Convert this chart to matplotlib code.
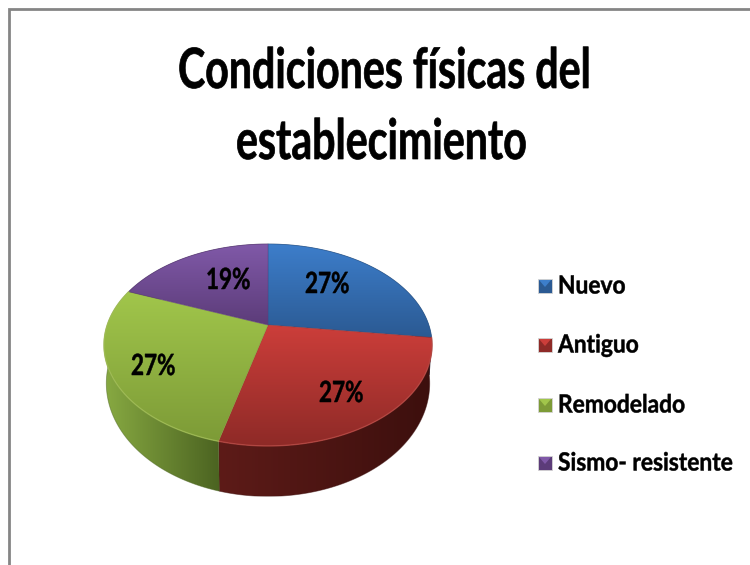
import numpy as np
import matplotlib
matplotlib.use("Agg")
import matplotlib.pyplot as plt
from matplotlib.colors import LinearSegmentedColormap
from matplotlib.patches import PathPatch, Polygon, Rectangle
from matplotlib.path import Path
from matplotlib.patheffects import AbstractPathEffect
from matplotlib.transforms import Affine2D

plt.rcParams['font.family'] = ['Lato', 'DejaVu Sans']

# datos del grafico
categorias = ["Nuevo", "Antiguo", "Remodelado", "Sismo- resistente"]
valores = [27, 27, 27, 19]
titulo = ["Condiciones físicas del", "establecimiento"]

# colores: cara superior (arriba, abajo), lateral (izq, der), leyenda
top_cols = [("#3d7ecb", "#2b5a93"), ("#cc3e3a", "#8e2a27"),
            ("#a1c64b", "#7d9b37"), ("#8059a8", "#5c3c79")]
side_cols = [("#1d3b60", "#1d3b60"), ("#5d1b18", "#3c0f0d"),
             ("#88aa42", "#4b6321"), ("#3c2650", "#3c2650")]
rim_cols = [None, "#c9524c", "#adc95e", None]
# borde izquierdo de cada texto
label_xy = [(305, 285), (319, 394), (131, 367), (206, 281)]
legend_y = [286, 345, 405, 463]
title_xy = [(178, 72), (236, 143)]


class Condensar(AbstractPathEffect):
    # estrecha el texto en x y le da algo mas de grosor, como la fuente original
    def __init__(self, sx, grosor=0.35):
        super().__init__()
        self.sx = sx
        self.grosor = grosor

    def draw_path(self, renderer, gc, tpath, affine, rgbFace=None):
        gc0 = renderer.new_gc()
        gc0.copy_properties(gc)
        gc0.set_foreground("black")
        gc0.set_linewidth(self.grosor)
        renderer.draw_path(gc0, tpath, Affine2D().scale(self.sx, 1) + affine, rgbFace)
        gc0.restore()


fig = plt.figure(figsize=(7.5, 5.65), dpi=100)

# la tarta normal solo para sacar los angulos de cada porcion
tmp = fig.add_axes([0, 0, 0.1, 0.1])
wedges, _ = tmp.pie(valores, startangle=90, counterclock=False)
angulos = [(w.theta1, w.theta2) for w in wedges]
tmp.remove()

ax = fig.add_axes([0, 0, 1, 1])


def persp(theta, cy, a, b, k=0.198, cx=268):
    # circulo unidad visto en perspectiva, y hacia abajo en pixeles
    u, v = np.cos(np.radians(theta)), np.sin(np.radians(theta))
    w = 1 + k * v
    return cx + a * u / w, cy - b * v / w


def top_xy(theta):
    return persp(theta, 325, 160.8, 97)


def bottom_xy(theta):
    return persp(theta, 361, 158.5, 108.6)


def fill_grad(path, cols, vertical, z):
    patch = PathPatch(path, fc="none", ec="none", zorder=z)
    ax.add_patch(patch)
    x0, y0 = path.vertices.min(axis=0)
    x1, y1 = path.vertices.max(axis=0)
    grad = np.linspace(0, 1, 256)
    grad = grad[:, None] if vertical else grad[None, :]
    cmap = LinearSegmentedColormap.from_list("g", cols)
    im = ax.imshow(grad, cmap=cmap, extent=(x0, x1, y1, y0), aspect="auto",
                   vmin=0, vmax=1, zorder=z, interpolation="bilinear")
    im.set_clip_path(patch)
    # borde fino del mismo tono para suavizar el recorte
    ax.add_patch(PathPatch(path, fc="none", ec=cols[-1], lw=0.6, alpha=0.5, zorder=z))


# laterales primero
for i, (t1, t2) in enumerate(angulos):
    th = np.linspace(t1, t2, 120)
    xt, yt = top_xy(th)
    xb, yb = bottom_xy(th)
    pts = np.vstack([np.c_[xt, yt], np.c_[xb, yb][::-1], [[xt[0], yt[0]]]])
    fill_grad(Path(pts, closed=True), side_cols[i], False, 2)

# caras superiores
for i, (t1, t2) in enumerate(angulos):
    th = np.linspace(t1, t2, 120)
    xt, yt = top_xy(th)
    pts = np.vstack([[[268, 325]], np.c_[xt, yt], [[268, 325]]])
    fill_grad(Path(pts, closed=True), top_cols[i], True, 3)
    if rim_cols[i]:
        ax.plot(xt, yt, color=rim_cols[i], lw=1.0, alpha=0.6, zorder=4)

# etiquetas de porcentaje
for (x, y), val in zip(label_xy, valores):
    ax.text(x, y, f"{val}%", ha="left", va="center", fontsize=21, fontweight="bold",
            color="black", zorder=5, path_effects=[Condensar(0.77)])

# titulo
for linea, (x, y) in zip(titulo, title_xy):
    ax.text(x, y, linea, ha="left", va="center", fontsize=40, fontweight="bold",
            color="black", path_effects=[Condensar(0.74, 0.5)])

# leyenda
for i, (nombre, y) in enumerate(zip(categorias, legend_y)):
    ax.add_patch(Rectangle((538, y - 7), 14, 14, fc=top_cols[i][1], ec="#d5d5d5", lw=0.6))
    ax.add_patch(Polygon([(539, y - 6), (551, y - 6), (545, y + 1)], fc=top_cols[i][0], ec="none"))
    ax.text(558, y, nombre, ha="left", va="center", fontsize=18, fontweight="bold",
            color="black", path_effects=[Condensar(0.91)])

# marco gris de arriba y de la izquierda
ax.plot([9, 9, 750], [565, 8.5, 8.5], color="#858585", lw=2, solid_joinstyle="miter")

ax.set_xlim(0, 750)
ax.set_ylim(565, 0)
ax.axis("off")

fig.savefig("out.png", dpi=100)
